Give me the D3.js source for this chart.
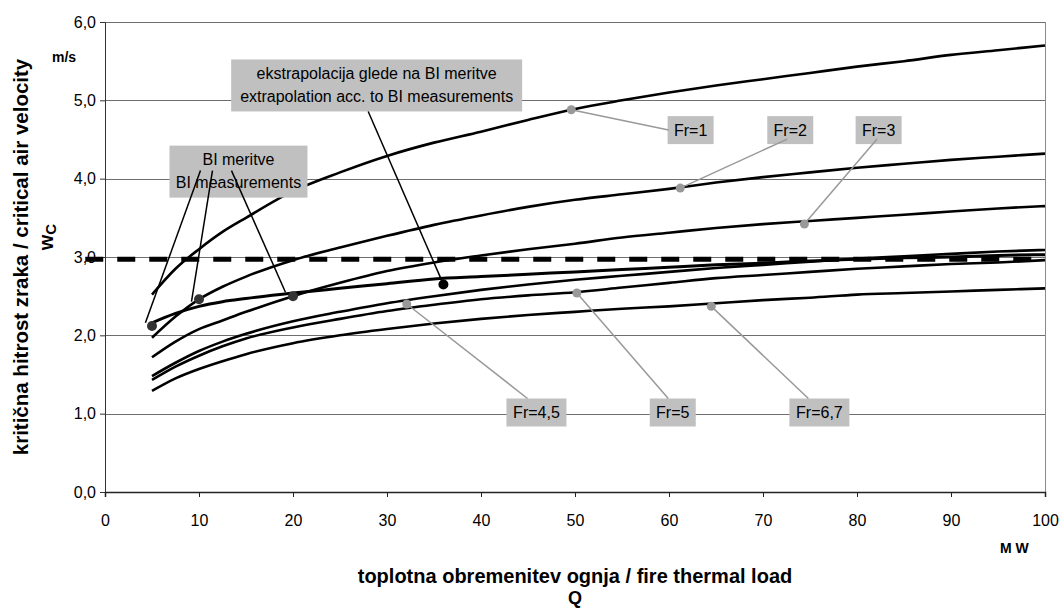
<!DOCTYPE html>
<html>
<head>
<meta charset="utf-8">
<script src="https://cdn.jsdelivr.net/npm/d3@7"></script>
<style>
  body { margin: 0; background: #fff; }
  svg text { font-family: "Liberation Sans", Arial, sans-serif; }
</style>
</head>
<body>
<div id="chart"></div>
<script>

// Thermal load Q (MW) at which the curves were read
var loads = [5, 7.5, 10, 12.5, 15, 20, 25, 30, 35, 40, 45, 50, 55, 60, 65, 70, 75, 80, 85, 90, 95, 100];

// Critical air velocity (m/s) for each Froude number
var fr1  = [2.52, 2.85, 3.10, 3.32, 3.50, 3.84, 4.08, 4.29, 4.46, 4.60, 4.75, 4.89, 5.00, 5.10, 5.19, 5.27, 5.35, 5.43, 5.50, 5.58, 5.64, 5.70];
var fr2  = [1.97, 2.24, 2.46, 2.62, 2.75, 2.96, 3.12, 3.27, 3.41, 3.53, 3.64, 3.73, 3.80, 3.87, 3.95, 4.02, 4.08, 4.14, 4.19, 4.24, 4.28, 4.32];
var fr3  = [1.72, 1.92, 2.08, 2.19, 2.30, 2.50, 2.67, 2.82, 2.93, 3.02, 3.10, 3.17, 3.25, 3.31, 3.37, 3.42, 3.46, 3.50, 3.54, 3.58, 3.62, 3.65];
var fr45 = [1.48, 1.65, 1.80, 1.92, 2.02, 2.18, 2.30, 2.41, 2.50, 2.58, 2.65, 2.71, 2.76, 2.81, 2.86, 2.90, 2.94, 2.98, 3.01, 3.04, 3.07, 3.09];
var fr5  = [1.43, 1.60, 1.74, 1.86, 1.96, 2.10, 2.21, 2.31, 2.39, 2.46, 2.51, 2.55, 2.61, 2.67, 2.73, 2.77, 2.81, 2.85, 2.88, 2.91, 2.93, 2.96];
var fr67 = [1.29, 1.45, 1.57, 1.67, 1.76, 1.90, 2.00, 2.08, 2.15, 2.21, 2.26, 2.30, 2.34, 2.37, 2.41, 2.45, 2.48, 2.52, 2.54, 2.56, 2.58, 2.60];
// extrapolation according to BI measurements
var biCurve = [2.16, 2.28, 2.37, 2.43, 2.47, 2.54, 2.60, 2.66, 2.72, 2.75, 2.78, 2.81, 2.84, 2.87, 2.90, 2.92, 2.95, 2.97, 2.99, 3.00, 3.02, 3.03];

// BI measurements and the extrapolation point
var biPoints = [[5, 2.12], [10, 2.46], [20, 2.50]];
var extraPoint = [36, 2.65];

// limit velocity (dashed line)
var limitVelocity = 2.97;

// series labels and the points they point at
var frNames = ["Fr=1", "Fr=2", "Fr=3", "Fr=4,5", "Fr=5", "Fr=6,7"];
var frMarkers = [[49.6, 4.88], [61.2, 3.88], [74.4, 3.42], [32.1, 2.40], [50.2, 2.54], [64.5, 2.37]];

var xTicks = [0, 10, 20, 30, 40, 50, 60, 70, 80, 90, 100];
var yTicks = [0, 1, 2, 3, 4, 5, 6];

// ---- layout ----
var width = 1059, height = 608;
var margin = { top: 22, left: 105, right: 14, bottom: 116 };
var plotW = width - margin.left - margin.right,
    plotH = height - margin.top - margin.bottom;

var svg = d3.select("#chart").append("svg")
    .attr("width", width)
    .attr("height", height);

var g = svg.append("g")
    .attr("transform", "translate(" + margin.left + "," + margin.top + ")");

var x = d3.scaleLinear().domain([0, 100]).range([0, plotW]);
var y = d3.scaleLinear().domain([0, 6]).range([plotH, 0]);

var comma = function(d) { return d3.format(".1f")(d).replace(".", ","); };

// gridlines
g.append("g")
    .selectAll("line")
    .data(yTicks.filter(function(d) { return d > 0; }))
    .enter().append("line")
    .attr("x1", 0).attr("x2", plotW)
    .attr("y1", function(d) { return Math.round(y(d)) + 0.5; })
    .attr("y2", function(d) { return Math.round(y(d)) + 0.5; })
    .attr("stroke", "#6e6e6e")
    .attr("stroke-width", 1);

// right border of plot area
g.append("line")
    .attr("x1", plotW + 0.5).attr("x2", plotW + 0.5)
    .attr("y1", y(6)).attr("y2", plotH)
    .attr("stroke", "#8c8c8c");

// axes
var yAxis = d3.axisLeft(y).tickValues(yTicks).tickSize(5).tickFormat(comma);
var xAxis = d3.axisBottom(x).tickValues(xTicks).tickSize(5).tickFormat(d3.format("d"));

var ya = g.append("g").call(yAxis);
ya.select(".domain").attr("stroke", "#333");
ya.selectAll(".tick line").attr("stroke", "#333");
ya.selectAll("text").attr("font-size", 16).attr("fill", "#000")
    .attr("font-family", "Liberation Sans, Arial, sans-serif").attr("dx", -1);

var xa = g.append("g").attr("transform", "translate(0," + plotH + ")").call(xAxis);
xa.select(".domain").attr("stroke", "#222").attr("stroke-width", 1.5);
xa.selectAll(".tick line").attr("stroke", "#222");
xa.selectAll("text").attr("font-size", 16).attr("fill", "#000")
    .attr("font-family", "Liberation Sans, Arial, sans-serif").attr("dy", "1.6em");

// curves
var line = d3.line()
    .x(function(d) { return x(d[0]); })
    .y(function(d) { return y(d[1]); })
    .curve(d3.curveMonotoneX);

var series = [fr1, fr2, fr3, fr45, fr5, fr67, biCurve];
g.append("g")
    .selectAll("path")
    .data(series)
    .enter().append("path")
    .attr("d", function(s) { return line(loads.map(function(q, i) { return [q, s[i]]; })); })
    .attr("fill", "none")
    .attr("stroke", "#000")
    .attr("stroke-width", function(s, i) { return i == 6 ? 3 : 2.6; })
    .attr("stroke-linejoin", "round");

// dashed limit line
g.append("line")
    .attr("x1", x(-2.1)).attr("x2", x(100))
    .attr("y1", y(limitVelocity)).attr("y2", y(limitVelocity))
    .attr("stroke", "#000")
    .attr("stroke-width", 5)
    .attr("stroke-dasharray", "18,14");

// label boxes (positions in data units)
var frBoxes = [
    { cx: 62.3, cy: 4.62, w: 46, ax: -22, ay: 0 },
    { cx: 72.9, cy: 4.62, w: 46, ax: -3, ay: 9 },
    { cx: 82.3, cy: 4.62, w: 46, ax: -1.5, ay: 9 },
    { cx: 45.9, cy: 1.015, w: 60, ax: -9, ay: -14 },
    { cx: 60.4, cy: 1.015, w: 46, ax: -4.5, ay: -14 },
    { cx: 76.0, cy: 1.015, w: 60, ax: -11, ay: -14 }
];

var lbl = g.append("g").selectAll("g")
    .data(frBoxes)
    .enter().append("g");

lbl.append("rect")
    .attr("x", function(d) { return x(d.cx) - d.w / 2; })
    .attr("y", function(d) { return y(d.cy) - 14; })
    .attr("width", function(d) { return d.w; })
    .attr("height", 28)
    .attr("fill", "#c0c0c0");

lbl.append("text")
    .attr("x", function(d) { return x(d.cx); })
    .attr("y", function(d) { return y(d.cy); })
    .attr("dy", "0.35em")
    .attr("text-anchor", "middle")
    .attr("font-size", 16)
    .text(function(d, i) { return frNames[i]; });

lbl.append("line")
    .attr("x1", function(d) { return x(d.cx) + d.ax; })
    .attr("y1", function(d) { return y(d.cy) + d.ay; })
    .attr("x2", function(d, i) { return x(frMarkers[i][0]); })
    .attr("y2", function(d, i) { return y(frMarkers[i][1]); })
    .attr("stroke", "#999")
    .attr("stroke-width", 1.5);

g.append("g").selectAll("circle")
    .data(frMarkers)
    .enter().append("circle")
    .attr("cx", function(d) { return x(d[0]); })
    .attr("cy", function(d) { return y(d[1]); })
    .attr("r", 4.5)
    .attr("fill", "#999");

// measurement dots
g.append("g").selectAll("circle")
    .data(biPoints)
    .enter().append("circle")
    .attr("cx", function(d) { return x(d[0]); })
    .attr("cy", function(d) { return y(d[1]); })
    .attr("r", 5)
    .attr("fill", "#333");

g.append("circle")
    .attr("cx", x(extraPoint[0]))
    .attr("cy", y(extraPoint[1]))
    .attr("r", 5)
    .attr("fill", "#000");

// two-line callouts
function callout(cx, cy, w, lines) {
    var c = g.append("g");
    c.append("rect")
        .attr("x", x(cx) - w / 2)
        .attr("y", y(cy) - 26)
        .attr("width", w)
        .attr("height", 52)
        .attr("fill", "#c0c0c0");
    c.selectAll("text")
        .data(lines)
        .enter().append("text")
        .attr("x", x(cx))
        .attr("y", function(d, i) { return y(cy) - 12 + i * 23; })
        .attr("dy", "0.35em")
        .attr("text-anchor", "middle")
        .attr("font-size", 16)
        .text(function(d) { return d; });
    return c;
}

callout(28.9, 5.19, 291, ["ekstrapolacija glede na BI meritve", "extrapolation acc. to BI measurements"]);
callout(14.2, 4.09, 138, ["BI meritve", "BI measurements"]);

// callout leaders (drawn on top)
g.append("line")
    .attr("x1", x(28.0)).attr("y1", y(5.19) + 26)
    .attr("x2", x(extraPoint[0])).attr("y2", y(extraPoint[1]))
    .attr("stroke", "#000").attr("stroke-width", 1.5);

var biAnchors = [-38, -26, -7];
var biEnds = [[4.3, 2.16], [9.2, 2.43], [19.2, 2.55]];
g.append("g").selectAll("line")
    .data(biEnds)
    .enter().append("line")
    .attr("x1", function(d, i) { return x(14.2) + biAnchors[i]; })
    .attr("y1", y(4.09) - 1)
    .attr("x2", function(d) { return x(d[0]); })
    .attr("y2", function(d) { return y(d[1]); })
    .attr("stroke", "#000")
    .attr("stroke-width", 1.5);

// units and titles
svg.append("text")
    .attr("x", 52).attr("y", 62)
    .attr("font-size", 14).attr("font-weight", "bold")
    .text("m/s");

svg.append("text")
    .attr("x", 1000).attr("y", 553)
    .attr("font-size", 14).attr("font-weight", "bold")
    .text("M W");

svg.append("text")
    .attr("transform", "translate(28," + (margin.top + plotH / 2) + ") rotate(-90)")
    .attr("text-anchor", "middle")
    .attr("font-size", 20.5).attr("font-weight", "bold")
    .text("kritična hitrost zraka / critical air velocity");

var wc = svg.append("text")
    .attr("transform", "translate(53,237) rotate(-90)")
    .attr("text-anchor", "middle")
    .attr("font-size", 20).attr("font-weight", "bold");
wc.append("tspan").text("w");
wc.append("tspan").attr("font-size", 15).attr("dy", 3).text("C");

svg.append("text")
    .attr("x", margin.left + plotW / 2).attr("y", 583)
    .attr("text-anchor", "middle")
    .attr("font-size", 20).attr("font-weight", "bold")
    .text("toplotna obremenitev ognja / fire thermal load");

svg.append("text")
    .attr("x", margin.left + plotW / 2).attr("y", 604)
    .attr("text-anchor", "middle")
    .attr("font-size", 18).attr("font-weight", "bold")
    .text("Q");

</script>
</body>
</html>
